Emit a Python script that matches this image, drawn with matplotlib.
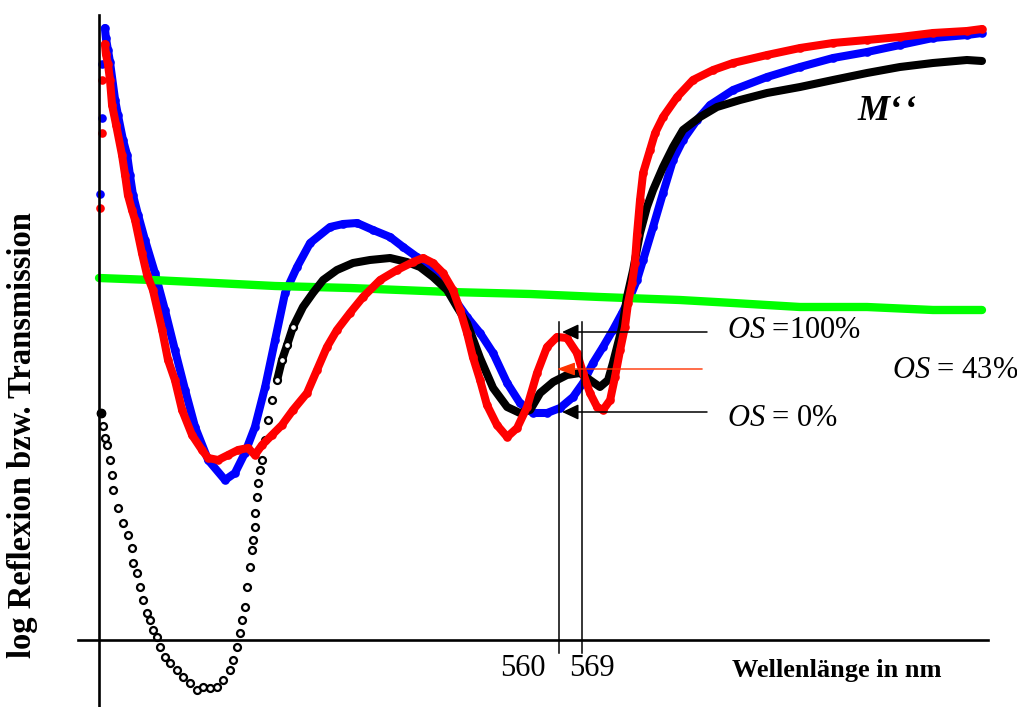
import numpy as np
import matplotlib
matplotlib.use("Agg")
import matplotlib.pyplot as plt

plt.rcParams["font.family"] = ["Liberation Serif", "DejaVu Serif"]
plt.rcParams["mathtext.fontset"] = "custom"
plt.rcParams["mathtext.rm"] = "Liberation Serif"
plt.rcParams["mathtext.it"] = "Liberation Serif:italic"

# wavelength in nm, log reflection / transmission in arbitrary units
blue_nm = [380.4, 381.2, 381.2, 382.3, 382.7, 383.5, 384.3, 386.3, 387.4, 389.4,
           391.0, 392.1, 393.3, 395.3, 398.0, 401.9, 405.8, 409.7, 413.7, 417.6,
           422.7, 429.3, 433.2, 437.1, 441.0, 445.0, 448.9, 452.8, 457.5, 462.6,
           470.4, 475.5, 481.0, 487.2, 493.9, 499.0, 504.4, 509.5, 514.6, 518.5,
           524.0, 529.1, 534.2, 539.7, 544.7, 549.8, 555.3, 560.4, 565.5, 569.4,
           573.3, 577.2, 581.1, 584.7, 587.8, 590.5, 592.9, 596.8, 600.7, 604.6,
           608.5, 614.0, 619.1, 628.1, 641.4, 654.3, 667.2, 680.5, 693.4, 706.3,
           719.6, 725.5]
blue_val = [2.230, 2.610, 2.880, 3.060, 3.010, 2.950, 2.890, 2.700, 2.625, 2.500,
            2.425, 2.325, 2.225, 2.125, 2.000, 1.835, 1.650, 1.450, 1.250, 1.065,
            0.900, 0.800, 0.835, 0.935, 1.065, 1.265, 1.500, 1.735, 1.865, 1.985,
            2.065, 2.080, 2.085, 2.050, 2.015, 1.965, 1.915, 1.850, 1.785, 1.715,
            1.615, 1.535, 1.435, 1.285, 1.185, 1.135, 1.135, 1.160, 1.215, 1.285,
            1.385, 1.465, 1.550, 1.635, 1.715, 1.800, 1.900, 2.065, 2.235, 2.400,
            2.500, 2.600, 2.675, 2.750, 2.815, 2.865, 2.910, 2.940, 2.975, 3.010,
            3.025, 3.035]

red_nm = [380.4, 381.2, 381.2, 382.3, 382.7, 383.5, 384.3, 385.1, 386.7, 389.0,
          390.2, 391.3, 392.9, 394.1, 396.8, 398.8, 401.1, 404.7, 407.0, 409.7,
          412.5, 416.4, 420.3, 422.7, 426.6, 430.5, 434.4, 438.3, 441.0, 443.8,
          447.7, 451.6, 455.9, 461.4, 465.3, 469.2, 473.1, 478.2, 483.3, 490.0,
          496.6, 502.9, 506.8, 510.7, 514.6, 518.5, 521.3, 524.0, 526.3, 529.1,
          531.8, 535.7, 539.7, 543.6, 547.5, 551.4, 555.3, 559.2, 563.1, 567.0,
          569.4, 572.1, 574.9, 577.2, 580.0, 581.9, 583.9, 585.8, 587.0, 588.6,
          589.7, 590.5, 591.7, 592.9, 595.6, 597.6, 600.7, 606.2, 612.4, 620.3,
          628.1, 641.4, 654.3, 667.2, 680.5, 693.4, 706.3, 719.6, 725.5]
red_val = [2.160, 2.535, 2.800, 2.980, 2.930, 2.880, 2.800, 2.675, 2.575, 2.425,
           2.325, 2.225, 2.150, 2.100, 1.935, 1.825, 1.750, 1.550, 1.400, 1.300,
           1.150, 1.025, 0.950, 0.910, 0.900, 0.925, 0.950, 0.960, 0.925, 0.975,
           1.025, 1.075, 1.150, 1.235, 1.350, 1.465, 1.550, 1.635, 1.715, 1.800,
           1.850, 1.890, 1.910, 1.885, 1.835, 1.750, 1.650, 1.535, 1.415, 1.300,
           1.175, 1.075, 1.015, 1.060, 1.165, 1.335, 1.465, 1.515, 1.510, 1.435,
           1.335, 1.235, 1.165, 1.150, 1.200, 1.315, 1.450, 1.565, 1.685, 1.785,
           1.885, 2.025, 2.200, 2.335, 2.450, 2.535, 2.615, 2.715, 2.800, 2.850,
           2.885, 2.925, 2.960, 2.985, 3.000, 3.015, 3.035, 3.045, 3.055]

black_nm = [380.8, 381.6, 382.3, 383.1, 384.3, 385.1, 385.5, 387.4, 389.4, 391.3,
            392.9, 393.3, 394.9, 396.0, 397.2, 398.8, 400.0, 401.1, 402.7, 403.9,
            405.8, 407.8, 410.5, 412.9, 415.6, 418.3, 420.7, 423.4, 426.2, 428.5,
            431.3, 432.4, 434.0, 435.2, 436.0, 437.1, 437.9, 439.1, 439.9, 440.3,
            441.0, 441.0, 441.8, 442.2, 443.0, 443.8, 445.0, 446.1, 447.7, 449.7,
            451.6, 453.6, 455.9, 459.8, 463.7, 467.7, 473.1, 479.4, 486.0, 493.9,
            500.5, 505.6, 510.7, 516.2, 520.1, 524.0, 529.1, 534.2, 539.7, 544.7,
            548.7, 552.6, 557.7, 563.1, 568.2, 572.1, 576.0, 579.2, 581.1, 583.1,
            584.7, 586.6, 589.0, 591.7, 594.4, 596.8, 600.7, 604.6, 608.5, 615.2,
            621.8, 630.8, 641.4, 654.3, 667.2, 680.5, 693.4, 706.3, 719.6, 725.5]
black_val = [1.135, 1.070, 1.010, 0.975, 0.900, 0.825, 0.750, 0.660, 0.585, 0.525,
             0.460, 0.385, 0.335, 0.265, 0.200, 0.135, 0.100, 0.050, 0.015, -0.035,
             -0.085, -0.115, -0.150, -0.185, -0.215, -0.250, -0.235, -0.240, -0.235, -0.200,
             -0.150, -0.100, -0.035, 0.035, 0.100, 0.165, 0.265, 0.365, 0.450, 0.500,
             0.565, 0.635, 0.715, 0.785, 0.850, 0.900, 1.000, 1.100, 1.200, 1.300,
             1.400, 1.475, 1.565, 1.665, 1.735, 1.800, 1.850, 1.885, 1.900, 1.910,
             1.890, 1.865, 1.815, 1.750, 1.665, 1.585, 1.410, 1.260, 1.165, 1.135,
             1.150, 1.235, 1.290, 1.325, 1.335, 1.300, 1.265, 1.300, 1.385, 1.485,
             1.565, 1.715, 1.850, 2.035, 2.165, 2.250, 2.365, 2.465, 2.550, 2.615,
             2.665, 2.700, 2.735, 2.765, 2.800, 2.835, 2.865, 2.885, 2.900, 2.895]

green_nm = [380.0, 400.7, 425.4, 448.9, 478.2, 517.3, 548.7, 576.0, 607.3, 628.1,
            654.3, 680.5, 706.3, 725.5]
green_val = [1.810, 1.800, 1.785, 1.770, 1.760, 1.740, 1.730, 1.715, 1.700, 1.685,
             1.665, 1.665, 1.650, 1.650]

# marked wavelengths and the three OS levels
mark_nm = [560, 569]
os100_level = 1.54
os43_level = 1.355
os0_level = 1.14

fig = plt.figure(figsize=(10.17, 7.07), dpi=100)
ax = fig.add_axes([0, 0, 1, 1])
ax.set_xlim(341.26, 739.2)
ax.set_ylim(-0.335, 3.2)
ax.axis("off")

# axes drawn by hand: no ticks, no frame
ax.plot([380, 380], [-0.335, 3.125], color="black", lw=1.9, zorder=6)
ax.plot([371.8, 727.9], [0, 0], color="black", lw=1.9, zorder=6)

band = dict(lw=5.8, solid_capstyle="round", solid_joinstyle="round")
dot = dict(marker="o", ms=6.2, mew=0, linestyle="none")

ax.plot(blue_nm[3:], blue_val[3:], color="#0000ff", zorder=2, **band)
ax.plot(blue_nm, blue_val, color="#0000ff", zorder=2, **dot)

ax.plot(green_nm, green_val, color="#00ff00", lw=6.0,
        solid_capstyle="round", zorder=3)

bnm = np.array(black_nm)
bval = np.array(black_val)
dense = bnm >= 449
ax.plot(bnm[dense], bval[dense], color="black", zorder=4, **band)
ax.plot(bnm[bnm < 456], bval[bnm < 456], linestyle="none", marker="o", ms=5.0,
        mfc="white", mec="black", mew=1.6, zorder=4)
ax.plot(bnm[:1], bval[:1], linestyle="none", marker="o", ms=6.0,
        color="black", zorder=4)

ax.plot(red_nm[3:], red_val[3:], color="#ff0000", zorder=5, **band)
ax.plot(red_nm, red_val, color="#ff0000", zorder=5, **dot)

# marker lines for 560 / 569 nm
for nm in mark_nm:
    ax.plot([nm, nm], [-0.065, 1.59], color="black", lw=1.1, zorder=7)

head = "-|>,head_length=1.0,head_width=0.47"
arrow_black = dict(arrowstyle=head, color="black", lw=1.1, shrinkA=0, shrinkB=0)
ax.annotate("", xy=(561.2, os100_level), xytext=(617.9, os100_level),
            arrowprops=arrow_black, zorder=8)
ax.annotate("", xy=(561.2, os0_level), xytext=(617.9, os0_level),
            arrowprops=arrow_black, zorder=8)
ax.annotate("", xy=(559.2, os43_level), xytext=(616.0, os43_level),
            arrowprops=dict(arrowstyle="-|>,head_length=1.1,head_width=0.4",
                            color="#ff3300", lw=1.0, shrinkA=0, shrinkB=0),
            zorder=8)

ax.text(625.7, os100_level + 0.01, r"$OS$ =100%", fontsize=22,
        ha="left", va="center")
ax.text(625.7, os0_level - 0.03, r"$OS$ = 0%", fontsize=22,
        ha="left", va="center")
ax.text(690.3, os43_level - 0.005, r"$OS$ = 43%", fontsize=22,
        ha="left", va="center")

ax.text(676.6, 2.64, "M\u2018\u200a\u2018", fontsize=26, fontweight="bold",
        fontstyle="italic", ha="left", va="center")

ax.text(545.9, -0.14, "560", fontsize=22, ha="center", va="center")
ax.text(572.9, -0.14, "569", fontsize=22, ha="center", va="center")
ax.text(668.8, -0.15, "Wellenlänge in nm", fontsize=19, fontweight="bold",
        ha="center", va="center")

fig.text(23 / 1017, 1 - 435 / 707, "log Reflexion bzw. Transmission",
         fontsize=23.5, fontweight="bold", rotation=90, ha="center", va="center")

fig.savefig("out.png", dpi=100)
plt.close(fig)
